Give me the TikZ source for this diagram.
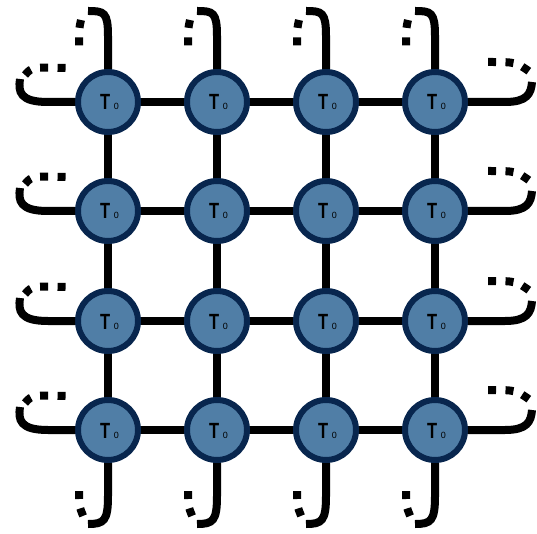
\documentclass[tikz,border=0pt]{standalone}
\usepackage{fontspec}
\setmainfont{Liberation Sans}
\definecolor{tfill}{RGB}{80,126,166}
\definecolor{tborder}{RGB}{8,38,78}
\begin{document}
\begin{tikzpicture}[x=1pt,y=-1pt,
  tnode/.style={circle,draw=tborder,fill=tfill,line width=6pt,minimum size=60pt,inner sep=0pt},
  bond/.style={line width=8pt,black},
  dotbond/.style={line width=8pt,black,dash pattern=on 8pt off 9.5pt}]
\useasboundingbox (0,0) rectangle (537,534);
\def\tlabel{\scalebox{0.75}[1]{\fontsize{22}{22}\selectfont\bfseries T}\hspace{3.5pt}{\fontsize{9}{9}\selectfont 0}}
\foreach \r/\y in {1/102,2/211,3/321,4/430}{
  \foreach \c/\x in {1/108,2/217,3/326,4/435}{
    \node[tnode] (n\r\c) at (\x,\y) {};
    \node[anchor=base,inner sep=0pt] (l\r\c) at (\x+1.5,\y+8) {\tlabel};
  }
}
% horizontal bonds
\foreach \r in {1,2,3,4}{
  \foreach \c/\d in {1/2,2/3,3/4}{
    \draw[bond] (n\r\c) -- (n\r\d);
  }
}
% vertical bonds
\foreach \c in {1,2,3,4}{
  \foreach \r/\s in {1/2,2/3,3/4}{
    \draw[bond] (n\r\c) -- (n\s\c);
  }
}
% left and right hooks
\foreach \r/\y in {1/102,2/211,3/321,4/430}{
  \coordinate (la\r) at (20,\y-23);
  \draw[bond] (n\r1.west) -- (48,\y) .. controls (20,\y) and (18,\y-10) .. (la\r);
  \coordinate (lb\r) at (66,\y-34);
  \draw[dotbond] (25,\y-27) .. controls (32,\y-35) .. (lb\r);
  \coordinate (ra\r) at (532,\y-20);
  \draw[bond] (n\r4.east) -- (505,\y) .. controls (527,\y) and (531,\y-8) .. (ra\r);
  \coordinate (rb\r) at (530,\y-30);
  \draw[dotbond] (488,\y-40) .. controls (516,\y-40) .. (rb\r);
}
% top and bottom hooks
\foreach \c/\x in {1/108,2/217,3/326,4/435}{
  \coordinate (ta\c) at (\x-20,11);
  \draw[bond] (n1\c.north) -- (\x,36) .. controls (\x,12) and (\x-4,11) .. (ta\c);
  \coordinate (tb\c) at (\x-29,47);
  \draw[dotbond] (\x-27,20) .. controls (\x-29,29) .. (tb\c);
  \coordinate (ba\c) at (\x-20,524);
  \draw[bond] (n4\c.south) -- (\x,496) .. controls (\x,521) and (\x-4,524) .. (ba\c);
  \coordinate (bb\c) at (\x-24,518);
  \draw[dotbond] (\x-29,491) .. controls (\x-29,506) .. (bb\c);
}
\end{tikzpicture}
\end{document}
